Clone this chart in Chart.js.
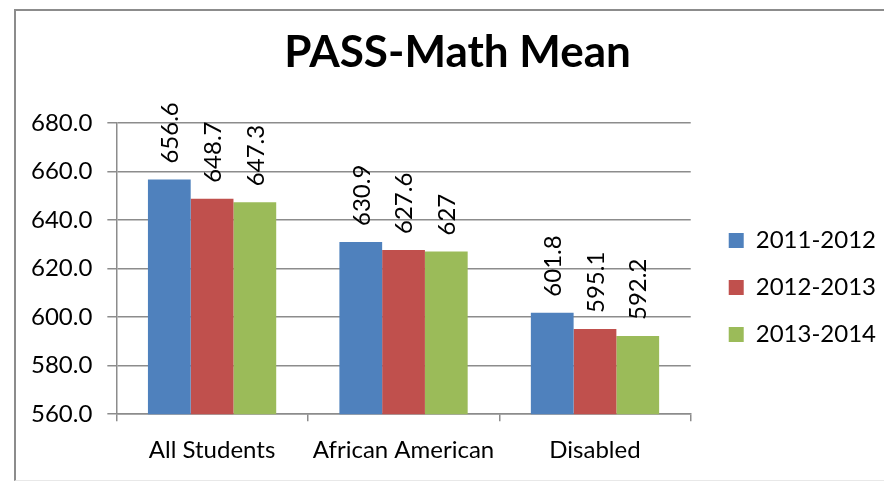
<!DOCTYPE html>
<html>
<head>
<meta charset="utf-8">
<script src="https://cdn.jsdelivr.net/npm/chart.js@4"></script>
<style>
    html, body { margin: 0; padding: 0; background: #fff; }
    #frame {
        position: absolute;
        left: 14px;
        top: 9px;
        width: 880px;
        height: 469px;
        border-left: 2px solid #8c8c8c;
        border-top: 2px solid #8c8c8c;
        border-bottom: 1px solid #e8e8e8;
    }
    #chart { display: block; }
</style>
</head>
<body>
<div id="frame"><canvas id="chart" width="868" height="469"></canvas></div>
<script>
// ============================================================================
// DATA
// ============================================================================

const categories = ['All Students', 'African American', 'Disabled'];
const seriesNames = ['2011-2012', '2012-2013', '2013-2014'];
const values2011 = [656.6, 630.9, 601.8];
const values2012 = [648.7, 627.6, 595.1];
const values2013 = [647.3, 627, 592.2];
const yTicks = [560, 580, 600, 620, 640, 660, 680];

const colors = ['#4F81BD', '#C0504D', '#9BBB59'];
const fontFamily = 'Lato, Carlito, Calibri, sans-serif';

// ============================================================================
// VALUE LABELS (rotated, above each bar)
// ============================================================================

const barLabels = {
    id: 'barLabels',
    afterDatasetsDraw(chart) {
        const ctx = chart.ctx;
        ctx.save();
        ctx.font = '24px ' + fontFamily;
        ctx.fillStyle = '#000';
        ctx.textAlign = 'left';
        ctx.textBaseline = 'middle';
        chart.data.datasets.forEach((ds, i) => {
            chart.getDatasetMeta(i).data.forEach((bar, j) => {
                ctx.save();
                ctx.translate(bar.x, bar.y - 16);
                ctx.rotate(-Math.PI / 2);
                ctx.fillText(String(ds.data[j]), 0, 1);
                ctx.restore();
            });
        });
        ctx.restore();
    }
};

// nudge legend down/right and title right, like the original
const boxNudge = {
    id: 'boxNudge',
    afterLayout(chart) {
        chart.legend.top += 42;
        chart.legend.bottom += 42;
        chart.legend.left += 15;
        chart.legend.right += 15;
        chart.titleBlock.left += 14;
        chart.titleBlock.right += 14;
    }
};

new Chart(document.getElementById('chart'), {
    type: 'bar',
    data: {
        labels: categories,
        datasets: [
            { label: seriesNames[0], data: values2011, backgroundColor: colors[0] },
            { label: seriesNames[1], data: values2012, backgroundColor: colors[1] },
            { label: seriesNames[2], data: values2013, backgroundColor: colors[2] }
        ]
    },
    options: {
        responsive: false,
        animation: false,
        layout: {
            padding: { left: 0, right: 13, top: 0, bottom: 0 }
        },
        datasets: {
            bar: {
                categoryPercentage: 0.67,
                barPercentage: 1.0,
                borderWidth: 0
            }
        },
        plugins: {
            title: {
                display: true,
                text: 'PASS-Math Mean',
                color: '#000',
                font: { family: fontFamily, size: 44, weight: 'bold' },
                padding: { top: 15, bottom: 44 }
            },
            legend: {
                position: 'right',
                labels: {
                    color: '#000',
                    font: { family: fontFamily, size: 24 },
                    boxWidth: 15,
                    boxHeight: 15,
                    padding: 23
                }
            },
            tooltip: { enabled: false }
        },
        scales: {
            x: {
                grid: {
                    offset: true,
                    drawOnChartArea: false,
                    drawTicks: true,
                    tickLength: 7,
                    color: '#8c8c8c',
                    lineWidth: 1.5
                },
                border: { color: '#8c8c8c', width: 1.5 },
                ticks: {
                    color: '#000',
                    font: { family: fontFamily, size: 24 },
                    padding: 15
                }
            },
            y: {
                min: 560,
                max: 680,
                afterBuildTicks: axis => {
                    axis.ticks = yTicks.map(v => ({ value: v }));
                },
                grid: {
                    color: '#8c8c8c',
                    lineWidth: 1.5,
                    tickLength: 9
                },
                border: { color: '#8c8c8c', width: 1.5 },
                ticks: {
                    color: '#000',
                    font: { family: fontFamily, size: 24 },
                    padding: 15,
                    callback: v => v.toFixed(1)
                }
            }
        }
    },
    plugins: [barLabels, boxNudge]
});
</script>
</body>
</html>
